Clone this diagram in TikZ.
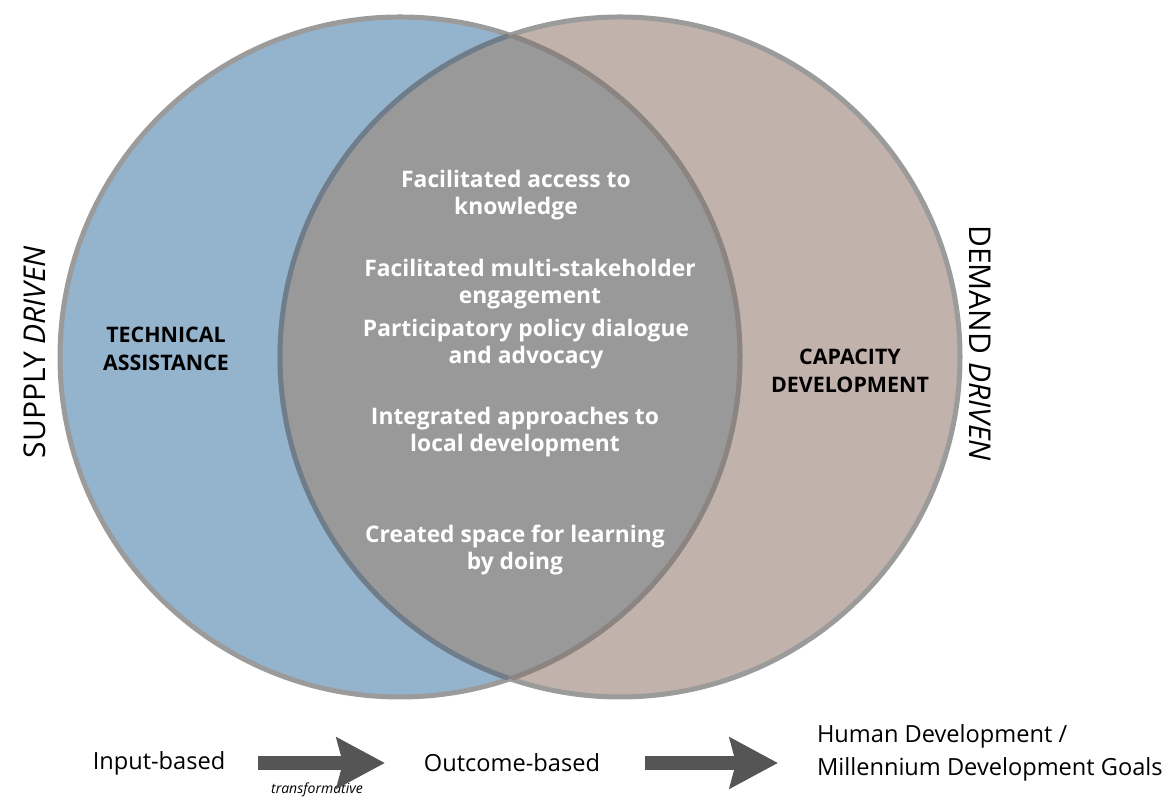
\documentclass[tikz,border=0pt]{standalone}
\usepackage{fontspec}
\setmainfont{Open Sans}
\usetikzlibrary{arrows.meta,positioning}
\definecolor{taBlue}{HTML}{94B3CD}
\definecolor{cdBrown}{HTML}{C1B2AB}
\definecolor{overlapGray}{HTML}{999999}
\definecolor{rimGray}{HTML}{9B9B9B}
\definecolor{rimBlue}{HTML}{6F7D8B}
\definecolor{rimBrown}{HTML}{8C8480}
\definecolor{arrowGray}{HTML}{555555}
\tikzset{
  % outline of the two sets
  circrim/.style={line width=2.5pt, rimGray},
  % white bold items inside the overlap
  itemtxt/.style={text=white, align=center,
    font=\bfseries\fontsize{11.4}{13.5}\selectfont},
  % black bold set names
  settxt/.style={text=black, align=center,
    font=\bfseries\fontsize{10.7}{14}\selectfont},
  % rotated side captions
  sidetxt/.style={font=\fontsize{15}{18}\selectfont},
  % bottom row captions
  rowtxt/.style={font=\fontsize{11.8}{16.5}\selectfont},
  % thick grey progression arrows
  flowarrow/.style={-{Stealth[length=24pt, width=25pt, inset=3pt]},
    line width=7pt, arrowGray},
}
\begin{document}
\begin{tikzpicture}[x=0.5pt, y=0.5pt]
  \useasboundingbox (0,0) rectangle (1168,801);
  % the two sets and their overlap
  \fill[taBlue] (400,444) circle (340);
  \fill[cdBrown] (620,444) circle (340);
  \begin{scope}
    \clip (400,444) circle (340);
    \fill[overlapGray] (620,444) circle (340);
  \end{scope}
  \draw[circrim] (400,444) circle (340);
  \draw[circrim] (620,444) circle (340);
  \begin{scope}
    \clip (400,444) circle (340);
    \draw[circrim, rimBlue] (620,444) circle (340);
  \end{scope}
  \begin{scope}
    \clip (620,444) circle (340);
    \draw[circrim, rimBrown] (400,444) circle (340);
  \end{scope}
  % set names
  \node[settxt] (techassist) at (166,452) {TECHNICAL\\ASSISTANCE};
  \node[settxt] (capdev) at (850,430) {CAPACITY\\DEVELOPMENT};
  % items in the overlap
  \node[itemtxt] (access) at (516,606) {Facilitated access to\\knowledge};
  \node[itemtxt] (multi) at (530,517) {Facilitated multi-stakeholder\\engagement};
  \node[itemtxt] (policy) at (526,457) {Participatory policy dialogue\\and advocacy};
  \node[itemtxt] (integr) at (515,369) {Integrated approaches to\\local development};
  \node[itemtxt] (learning) at (515,251) {Created space for learning\\by doing};
  % side captions
  \node[sidetxt, rotate=90] (supply) at (35,449) {SUPPLY \textit{DRIVEN}};
  \node[sidetxt, rotate=-90] (demand) at (980,458) {DEMAND \textit{DRIVEN}};
  % bottom row
  \node[rowtxt] (input) at (159,38) {Input-based};
  \node[rowtxt] (outcome) at (512,38) {Outcome-based};
  \node[rowtxt, align=left, anchor=west] (goals) at (810,48)
    {Human Development /\\Millennium Development Goals};
  \node[font=\itshape\fontsize{7}{9}\selectfont] (transf) at (317,11) {transformative};
  \draw[flowarrow, shorten <=13pt, shorten >=16pt] (input) -- (outcome);
  \draw[flowarrow, shorten <=19pt, shorten >=16pt] (outcome) -- (outcome -| goals.west);
\end{tikzpicture}
\end{document}
